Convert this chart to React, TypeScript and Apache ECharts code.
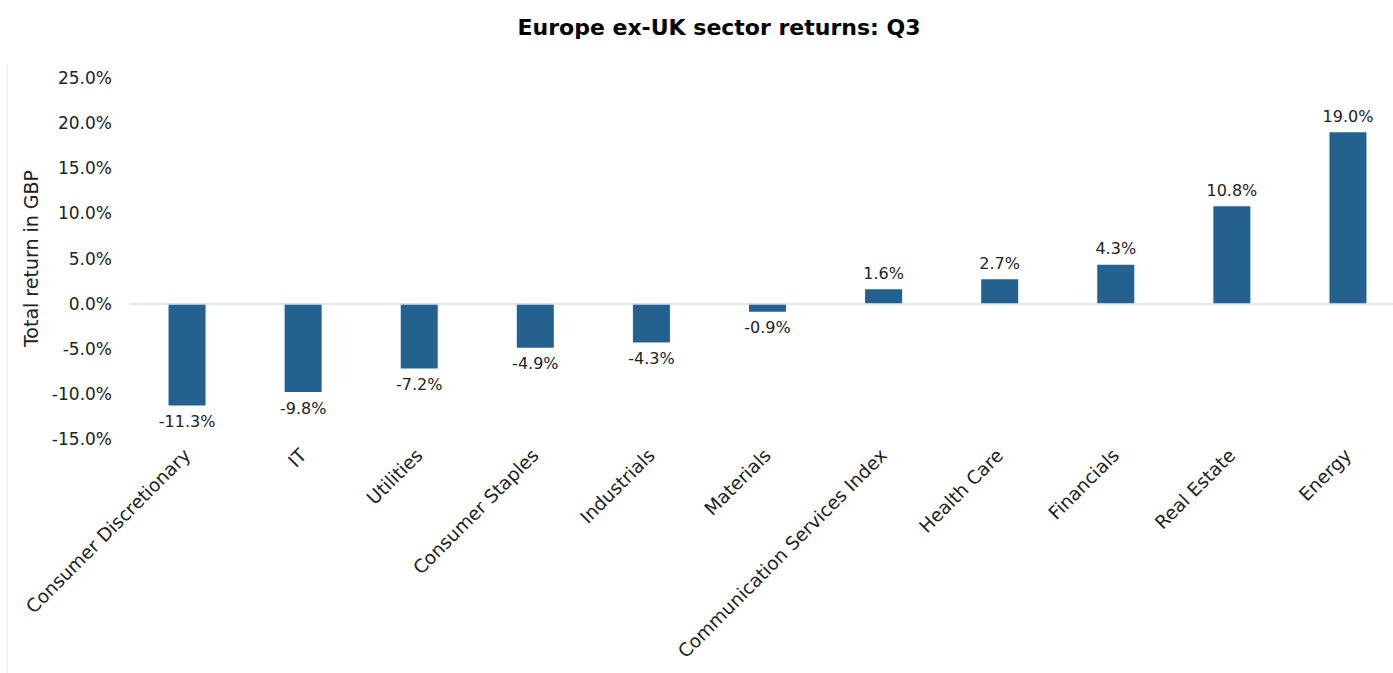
import React, { useEffect, useRef } from "react";
import * as echarts from "echarts";

const categories = [
  "Consumer Discretionary",
  "IT",
  "Utilities",
  "Consumer Staples",
  "Industrials",
  "Materials",
  "Communication Services Index",
  "Health Care",
  "Financials",
  "Real Estate",
  "Energy",
];
const returns = [-11.3, -9.8, -7.2, -4.9, -4.3, -0.9, 1.6, 2.7, 4.3, 10.8, 19.0];
const yMin = -15;
const yMax = 25;
const yStep = 5;

const FONT = "DejaVu Sans";

export default function App() {
  const ref = useRef<HTMLDivElement>(null);
  useEffect(() => {
    if (!ref.current) return;
    const chart = echarts.init(ref.current, null, { renderer: "svg" });
    chart.setOption({
      animation: false,
      backgroundColor: "#ffffff",
      textStyle: { fontFamily: FONT },
      title: {
        text: "Europe ex-UK sector returns: Q3",
        left: 714,
        textAlign: "center",
        top: 11,
        textStyle: { fontFamily: FONT, fontSize: 22, fontWeight: "bold", color: "#000" },
      },
      graphic: [
        {
          type: "line",
          shape: { x1: 7.5, y1: 64, x2: 7.5, y2: 673 },
          style: { stroke: "#ececec", lineWidth: 1 },
          silent: true,
        },
      ],
      grid: { left: 129, top: 78, width: 1277, height: 361, containLabel: false },
      xAxis: {
        type: "category",
        data: categories,
        axisLine: { show: false },
        axisTick: { show: false },
        axisLabel: {
          rotate: 45,
          interval: 0,
          margin: 13,
          fontFamily: FONT,
          fontSize: 18.5,
          color: "#222",
        },
      },
      yAxis: {
        type: "value",
        min: yMin,
        max: yMax,
        interval: yStep,
        name: "Total return in GBP",
        nameLocation: "middle",
        nameGap: 84,
        nameTextStyle: { fontFamily: FONT, fontSize: 19, color: "#222" },
        axisLine: { show: false },
        axisTick: { show: false },
        splitLine: { show: false },
        axisLabel: {
          margin: 17,
          fontFamily: FONT,
          fontSize: 17,
          color: "#222",
          formatter: (v: number) => v.toFixed(1) + "%",
        },
      },
      series: [
        {
          type: "bar",
          barWidth: 37,
          itemStyle: { color: "#24618f" },
          data: returns.map((v) => ({
            value: v,
            label: { position: v < 0 ? "bottom" : "top" },
          })),
          label: {
            show: true,
            distance: 8,
            fontFamily: FONT,
            fontSize: 16,
            color: "#222",
            formatter: (p: any) => Number(p.value).toFixed(1) + "%",
          },
          markLine: {
            silent: true,
            symbol: "none",
            label: { show: false },
            lineStyle: { color: "#d9e1ec", width: 1.5, type: "solid" },
            data: [{ yAxis: 0 }],
          },
        },
      ],
    });
    return () => chart.dispose();
  }, []);
  return (
    <div
      style={{
        position: "absolute",
        left: 0,
        top: 0,
        width: 1393,
        height: 673,
        overflow: "hidden",
      }}
    >
      <div ref={ref} style={{ width: 1420, height: 673 }} />
    </div>
  );
}
